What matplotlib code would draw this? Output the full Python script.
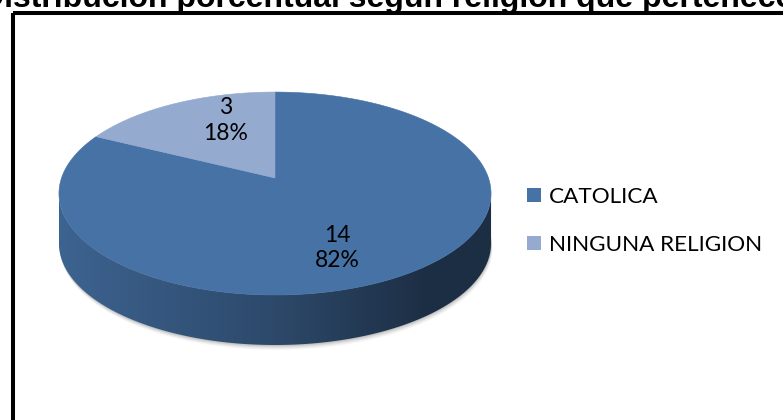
import numpy as np
import matplotlib.pyplot as plt
from matplotlib.patches import Polygon, Rectangle

title = 'Distribución porcentual según religión que pertenece'
categories = ['CATOLICA', 'NINGUNA RELIGION']
counts = [14, 3]
colors = ['#4672a6', '#95aacf']

# geometria del pastel 3D (pixeles)
cx, cy = 275, 178          # centro proyectado
A, B = 213.5, 99.1         # semiejes antes de la perspectiva
k = 0.153                  # factor de perspectiva
depth = 50                 # grosor del pastel
label_fr = 0.5
label_nudge = [(2, 25), (3, -18)]


def project(r, theta, drop=0.0):
    t = np.radians(theta)
    x = r * np.cos(t)
    y = r * np.sin(t)
    u = cx + A * x / (1 + k * y)
    v = cy - B * y / (1 + k * y) + drop
    return u, v


fig = plt.figure(figsize=(7.83, 4.2), dpi=100)
ax = fig.add_axes([0, 0, 1, 1])
ax.set_xlim(0, 783)
ax.set_ylim(420, 0)
ax.axis('off')

ax.text(387, 7, title, ha='center', va='baseline', fontsize=23,
        fontweight='bold', family='Liberation Sans')
ax.add_patch(Rectangle((12.5, 12.5), 820, 460, fill=False, lw=2.9,
                       ec='black', clip_on=False))

total = sum(counts)
starts, ends = [], []
a0 = 90.0
for c in counts:
    starts.append(a0)
    a0 = a0 - 360.0 * c / total
    ends.append(a0)

# sombra bajo la base
ts = np.linspace(0, 360, 400)
for off, al in [(5, 0.06), (4, 0.08), (3, 0.1), (2, 0.14), (1, 0.2)]:
    u, v = project(1, ts, depth + off)
    ax.add_patch(Polygon(np.column_stack([u + off * 0.3, v]), closed=True,
                         fc='#808080', ec='none', alpha=al))

# pared lateral visible con degradado horizontal
u_left = cx - A / np.sqrt(1 - k ** 2)
u_right = cx + A / np.sqrt(1 - k ** 2)
xs = np.linspace(0, 1, 300)
shade = np.interp(xs, [0, 0.5, 0.85, 1.0], [0.87, 0.64, 0.41, 0.41])
for s, e, col in zip(starts, ends, colors):
    ts = np.linspace(s, e, 800)
    vis = np.sin(np.radians(ts)) <= -k
    if not vis.any():
        continue
    tv = ts[vis]
    ut, vt = project(1, tv)
    ub, vb = project(1, tv[::-1], depth)
    side = Polygon(np.column_stack([np.r_[ut, ub], np.r_[vt, vb]]),
                   closed=True, fc='none', ec='none')
    ax.add_patch(side)
    rgb = np.array(plt.matplotlib.colors.to_rgb(col))
    img = (shade[:, None] * rgb[None, :])[None, :, :]
    im = ax.imshow(img, extent=[u_left, u_right, cy + 250, cy - 50],
                   aspect='auto', interpolation='bilinear', zorder=2)
    im.set_clip_path(side)

# cara superior
for s, e, col in zip(starts, ends, colors):
    ts = np.linspace(s, e, 400)
    u, v = project(1, ts)
    pts = np.vstack([[cx, cy], np.column_stack([u, v])])
    ax.add_patch(Polygon(pts, closed=True, fc=col, ec=col, lw=0.4, zorder=3))

# etiquetas de datos
for s, e, c, (dx, dy) in zip(starts, ends, counts, label_nudge):
    u, v = project(label_fr, (s + e) / 2)
    ax.text(u + dx, v + dy, f'{c}\n{round(100 * c / total)}%', ha='center',
            va='center', fontsize=16.5, family='Lato', linespacing=1.25,
            zorder=4)

# leyenda
for i, (cat, col) in enumerate(zip(categories, colors)):
    y = 195 + 48 * i
    ax.add_patch(Rectangle((527, y - 7), 14, 14, fc=col, ec='none'))
    ax.text(549, y, cat, ha='left', va='center_baseline', fontsize=16.2,
            family='Lato')

fig.savefig('out.png', dpi=100)
